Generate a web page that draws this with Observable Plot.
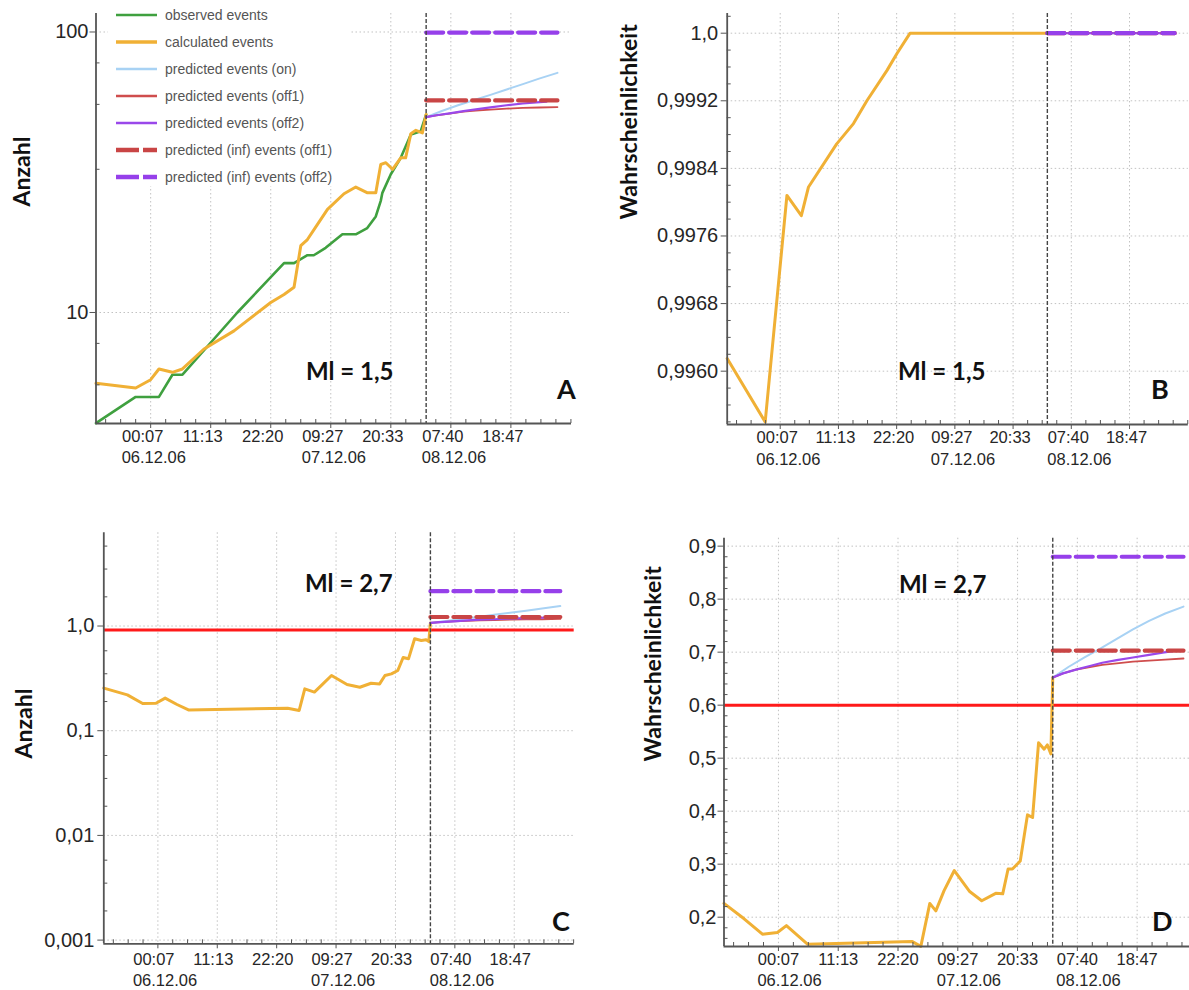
<!DOCTYPE html>
<html lang="de">
<head>
<meta charset="utf-8">
<title>Events Ml 1,5 / 2,7</title>
<script src="https://cdn.jsdelivr.net/npm/d3@7"></script>
<script src="https://cdn.jsdelivr.net/npm/@observablehq/plot@0.6"></script>
<style>
  html, body { margin: 0; padding: 0; background: #fff; overflow: hidden; }
  #wrap { position: relative; width: 1189px; height: 990px; overflow: hidden; background: #fff; }
  .panel { position: absolute; }
  #legend { position: absolute; left: 108px; top: 0; width: 242px; height: 186px; background: #fff;
            font-family: 'Liberation Sans', Arial, sans-serif; font-size: 14px; color: #555; }
  #legend .row { position: absolute; left: 0; height: 26px; display: flex; align-items: center; white-space: nowrap; }
  #legend .row svg { margin-left: 8px; margin-right: 8px; }
</style>
</head>
<body>
<div id="wrap"></div>
<script>
// ------------------------------------------------------------------
// DATA  (x = hours since 06.12.06 00:00)
// ------------------------------------------------------------------
const H0 = -10, H1 = 78;
const nowHour = 51.1;

const majorTickHours = [0.117, 11.228, 22.339, 33.450, 44.561, 55.672, 66.783];
const timeLabels = ["00:07", "11:13", "22:20", "09:27", "20:33", "07:40", "18:47"];
const dateLabels = ["06.12.06", "", "", "07.12.06", "", "08.12.06", ""];

const legendNames = [
  "observed events", "calculated events", "predicted events (on)", "predicted events (off1)",
  "predicted events (off2)", "predicted (inf) events (off1)", "predicted (inf) events (off2)"
];
const legendKeys = ["obs", "calc", "on", "off1", "off2", "inf1", "inf2"];

// prediction time steps
const predOnHours   = [51.1, 54, 57, 60, 63, 66, 69, 72, 75.4];
const predOff1Hours = [51.1, 53, 55.4, 58, 60.3, 63, 66, 69, 72, 75.4];
const predOff2Hours = [51.1, 53, 55.4, 58, 60.3, 63, 66, 69, 71.5, 73.4];
const predInfHours  = [51.1, 75.4];

// ---- Panel A (Anzahl, Ml = 1,5) ----
const yTicksA = [10, 100];
const yLabelsA = ["10", "100"];
const yMinorA = [5.52, 7.76, 32.4, 55.2, 77.6];
const obsHoursA = [-10, -2.66, 1.65, 4.14, 6.0, 16.17, 24.8, 26.65, 29.13, 30.3, 32.5, 35.6, 38.08, 40.2, 41.78, 42.7, 43.0, 44.56, 46.4, 48.27, 50.1, 51.1];
const obsA      = [4.03, 5.0, 5.0, 6.0, 6.0, 10.0, 15.0, 15.0, 16.0, 16.0, 17.0, 19.0, 19.0, 20.0, 22.0, 25.0, 26.7, 31.1, 35.6, 43.1, 44.3, 50.8];
const calcHoursA = [-10, -2.66, 0.117, 1.65, 4.14, 6.0, 9.99, 15.54, 22.34, 24.8, 26.65, 27.9, 29.13, 30.99, 32.84, 35.9, 38.08, 40.25, 41.78, 42.7, 43.64, 44.88, 46.4, 47.3, 48.27, 49.2, 50.4, 51.1];
const calcA      = [5.59, 5.38, 5.76, 6.29, 6.12, 6.29, 7.41, 8.6, 10.85, 11.6, 12.3, 17.3, 18.2, 20.6, 23.3, 26.5, 28.0, 26.7, 26.7, 33.7, 34.2, 32.4, 35.6, 35.6, 43.4, 44.6, 43.7, 50.8];
const predOnA   = [49.7, 52.3, 54.8, 57.2, 59.7, 62.4, 65.2, 68.2, 71.5];
const predOff1A = [49.7, 50.4, 51.2, 52.0, 52.5, 52.9, 53.3, 53.6, 53.8, 54.0];
const predOff2A = [49.7, 50.5, 51.3, 52.2, 53.0, 53.9, 54.8, 55.6, 56.1, 56.5];
const infOff1A = [57.0, 57.0];
const infOff2A = [99.5, 99.5];

// ---- Panel B (Wahrscheinlichkeit, Ml = 1,5) ----
const yTicksB = [0.996, 0.9968, 0.9976, 0.9984, 0.9992, 1.0];
const yLabelsB = ["0,9960", "0,9968", "0,9976", "0,9984", "0,9992", "1,0"];
const yMinorB = [0.9954, 0.9956, 0.9958, 0.9962, 0.9964, 0.9966, 0.9970, 0.9972, 0.9974, 0.9978, 0.9980, 0.9982, 0.9986, 0.9988, 0.9990, 0.9994, 0.9996, 0.9998, 1.0002];
const calcHoursB = [-10, -2.75, 1.4, 4.15, 5.52, 10.9, 14.1, 16.66, 20.5, 22.4, 24.9, 51.1];
const calcB      = [0.99615, 0.99540, 0.99808, 0.99784, 0.99818, 0.99869, 0.99893, 0.99920, 0.99956, 0.99976, 1.0, 1.0];
const predOnB   = [1.0, 1.0, 1.0, 1.0, 1.0, 1.0, 1.0, 1.0, 1.0];
const predOff1B = [1.0, 1.0, 1.0, 1.0, 1.0, 1.0, 1.0, 1.0, 1.0, 1.0];
const predOff2B = [1.0, 1.0, 1.0, 1.0, 1.0, 1.0, 1.0, 1.0, 1.0, 1.0];
const infOff1B = [1.0, 1.0];
const infOff2B = [1.0, 1.0];

// ---- Panel C (Anzahl, Ml = 2,7) ----
const yTicksC = [0.001, 0.01, 0.1, 1.0];
const yLabelsC = ["0,001", "0,01", "0,1", "1,0"];
const yMinorC = [0.0019, 0.0035, 0.0058, 0.019, 0.035, 0.058, 0.19, 0.35, 0.58, 1.9, 3.5, 5.8];
const calcHoursC = [-10, -5.59, -2.73, -0.24, 1.48, 3.69, 5.84, 24.4, 26.55, 27.6, 29.4, 30.85, 32.6, 35.5, 37.9, 40.0, 41.6, 42.6, 43.8, 45.0, 46.0, 47.0, 48.15, 49.4, 50.3, 50.8, 51.1];
const calcC      = [0.255, 0.220, 0.182, 0.183, 0.205, 0.178, 0.158, 0.164, 0.156, 0.251, 0.234, 0.276, 0.337, 0.276, 0.260, 0.284, 0.280, 0.337, 0.349, 0.376, 0.500, 0.486, 0.755, 0.727, 0.738, 0.71, 1.07];
const predOnC   = [1.07, 1.12, 1.17, 1.22, 1.28, 1.34, 1.40, 1.47, 1.55];
const predOff1C = [1.07, 1.09, 1.11, 1.12, 1.13, 1.14, 1.15, 1.155, 1.16, 1.17];
const predOff2C = [1.07, 1.09, 1.11, 1.13, 1.15, 1.16, 1.18, 1.19, 1.20, 1.21];
const infOff1C = [1.22, 1.22];
const infOff2C = [2.15, 2.15];
const thresholdC = 0.916;

// ---- Panel D (Wahrscheinlichkeit, Ml = 2,7) ----
const yTicksD = [0.2, 0.3, 0.4, 0.5, 0.6, 0.7, 0.8, 0.9];
const yLabelsD = ["0,2", "0,3", "0,4", "0,5", "0,6", "0,7", "0,8", "0,9"];
const yMinorD = [0.16, 0.18, 0.22, 0.24, 0.26, 0.28, 0.32, 0.34, 0.36, 0.38, 0.42, 0.44, 0.46, 0.48, 0.52, 0.54, 0.56, 0.58, 0.62, 0.64, 0.66, 0.68, 0.72, 0.74, 0.76, 0.78, 0.82, 0.84, 0.86, 0.88];
const calcHoursD = [-10, -6.26, -2.86, -0.07, 1.6, 5.51, 25.0, 26.58, 28.25, 29.37, 30.9, 32.8, 35.6, 37.9, 40.5, 41.8, 42.8, 43.6, 45.06, 46.4, 47.35, 48.46, 49.5, 50.1, 50.75, 51.1];
const calcD      = [0.226, 0.197, 0.168, 0.171, 0.184, 0.149, 0.154, 0.145, 0.226, 0.212, 0.250, 0.288, 0.249, 0.231, 0.245, 0.244, 0.291, 0.291, 0.306, 0.393, 0.388, 0.529, 0.517, 0.525, 0.508, 0.652];
const predOnD   = [0.652, 0.672, 0.690, 0.707, 0.725, 0.743, 0.759, 0.773, 0.786];
const predOff1D = [0.652, 0.660, 0.667, 0.672, 0.676, 0.679, 0.682, 0.684, 0.686, 0.688];
const predOff2D = [0.652, 0.660, 0.667, 0.674, 0.680, 0.685, 0.690, 0.695, 0.699, 0.702];
const infOff1D = [0.703, 0.703];
const infOff2D = [0.880, 0.880];
const thresholdD = 0.6;

const titles = ["Anzahl", "Wahrscheinlichkeit", "Anzahl", "Wahrscheinlichkeit"];
const magnitudes = ["Ml = 1,5", "Ml = 1,5", "Ml = 2,7", "Ml = 2,7"];
const letters = ["A", "B", "C", "D"];

// ------------------------------------------------------------------
// STYLE
// ------------------------------------------------------------------
const FONT = "'Liberation Sans', Arial, sans-serif";
const BOLD = "Lato, 'Open Sans', sans-serif";
const styles = {
  obs:  {stroke: "#3fa03f", strokeWidth: 2.6},
  calc: {stroke: "#f0b035", strokeWidth: 3},
  on:   {stroke: "#a8d2f4", strokeWidth: 2},
  off1: {stroke: "#cf4d4d", strokeWidth: 1.8},
  off2: {stroke: "#9a48ea", strokeWidth: 2.2},
  inf1: {stroke: "#c94545", strokeWidth: 4.2, strokeDasharray: "17,6"},
  inf2: {stroke: "#9640ea", strokeWidth: 4.2, strokeDasharray: "17,6"},
  thr:  {stroke: "#ff1a1a", strokeWidth: 3}
};
const gridStyle = {stroke: "#c2c2c2", strokeOpacity: 1, strokeWidth: 1, strokeDasharray: "1.5,2.5"};
const axisColor = "#555";
const labelColor = "#262626";

const tickStep = (majorTickHours[1] - majorTickHours[0]) / 4;
const minorTickHours = [];
for (let t = majorTickHours[0] - 3 * tickStep; t <= H1; t += tickStep) {
  if (t >= H0 && !majorTickHours.some(m => Math.abs(m - t) < 0.01)) minorTickHours.push(t);
}

const series = (hs, vs) => hs.map((h, i) => ({h, v: vs[i]}));

function panel(p) {
  const fw = p.R - p.L, fh = p.B - p.T;
  const xTickData = majorTickHours.map((h, i) => ({h, t: timeLabels[i], d: dateLabels[i]}));
  const marks = [
    Plot.gridX(majorTickHours, gridStyle),
    Plot.gridY(p.yTicks, gridStyle)
  ];
  if (p.thr != null) marks.push(Plot.ruleY([p.thr], styles.thr));
  if (p.obs) marks.push(Plot.line(series(p.obsH, p.obs), {x: "h", y: "v", ...styles.obs}));
  marks.push(Plot.line(series(p.calcH, p.calc), {x: "h", y: "v", ...styles.calc}));
  marks.push(Plot.line(series(predOnHours, p.on), {x: "h", y: "v", ...styles.on}));
  marks.push(Plot.line(series(predOff1Hours, p.off1), {x: "h", y: "v", ...styles.off1}));
  marks.push(Plot.line(series(predOff2Hours, p.off2), {x: "h", y: "v", ...styles.off2}));
  marks.push(Plot.line(series(predInfHours, p.inf1), {x: "h", y: "v", ...styles.inf1}));
  marks.push(Plot.line(series(predInfHours, p.inf2), {x: "h", y: "v", ...styles.inf2}));
  marks.push(Plot.ruleX([nowHour], {stroke: "#444", strokeWidth: 1.4, strokeDasharray: "4,2"}));
  // axis lines
  marks.push(Plot.ruleX([H0], {stroke: axisColor, strokeWidth: 1.8}));
  marks.push(Plot.ruleY([p.yDomain[0]], {stroke: axisColor, strokeWidth: 1.8}));
  // ticks
  marks.push(Plot.axisX(majorTickHours, {tickSize: 5, tickFormat: () => "", stroke: axisColor, label: null}));
  marks.push(Plot.tickX(minorTickHours, {x: d => d, stroke: axisColor, insetTop: fh - 4}));
  marks.push(Plot.axisY(p.yTicks, {
    tickSize: 6, tickPadding: p.yPad, fontSize: 20, fill: labelColor, stroke: axisColor, label: null,
    tickFormat: d => p.yLabels[p.yTicks.indexOf(d)]
  }));
  marks.push(Plot.tickY(p.yMinor.filter(v => v >= p.yDomain[0] && v <= p.yDomain[1]), {y: d => d, stroke: axisColor, insetRight: fw - 4}));
  // x labels
  marks.push(Plot.text(xTickData, {x: "h", text: "t", frameAnchor: "bottom", dy: p.timeDy, dx: p.xdx, fontSize: 16.5, fill: labelColor, lineAnchor: "middle"}));
  marks.push(Plot.text(xTickData.filter(d => d.d), {x: "h", text: "d", frameAnchor: "bottom", textAnchor: "start", dy: p.dateDy, dx: p.xdx - 21, fontSize: 16.5, fill: labelColor, lineAnchor: "middle"}));
  // axis title
  marks.push(Plot.text([p.title], {text: d => d, frameAnchor: "left", rotate: -90, dx: p.titleX - p.L, dy: p.titleY - (p.T + p.B) / 2,
    fontSize: 23, fontWeight: "bold", fontFamily: BOLD, fill: "#111", lineAnchor: "middle"}));
  // annotations
  marks.push(Plot.text([p.mag], {text: d => d, frameAnchor: "top-left", dx: p.magX - p.L, dy: p.magY - p.T,
    fontSize: 24, fontWeight: "bold", fontFamily: BOLD, fill: "#111", lineAnchor: "middle"}));
  marks.push(Plot.text([p.letter], {text: d => d, frameAnchor: "top-left", dx: p.letX - p.L, dy: p.letY - p.T,
    fontSize: 27, fontWeight: "bold", fontFamily: BOLD, fill: "#111", lineAnchor: "middle"}));

  const svg = Plot.plot({
    width: p.w, height: p.h,
    marginLeft: p.L - p.left, marginRight: p.left + p.w - p.R,
    marginTop: p.T - p.top, marginBottom: p.top + p.h - p.B,
    x: {domain: [H0, H1], label: null},
    y: {type: p.yType, domain: p.yDomain, label: null},
    style: {fontFamily: FONT, background: "transparent", overflow: "visible"},
    marks
  });
  svg.classList.add("panel");
  svg.style.left = p.left + "px";
  svg.style.top = p.top + "px";
  return svg;
}

const wrap = document.getElementById("wrap");

wrap.appendChild(panel({
  left: 0, top: 0, w: 600, h: 475, L: 95.5, R: 571, T: 13, B: 423,
  yType: "log", yDomain: [4.02, 116.4], yTicks: yTicksA, yLabels: yLabelsA, yMinor: yMinorA, yPad: 1.5,
  obsH: obsHoursA, obs: obsA, calcH: calcHoursA, calc: calcA,
  on: predOnA, off1: predOff1A, off2: predOff2A, inf1: infOff1A, inf2: infOff2A,
  xdx: -8, timeDy: 13, dateDy: 34,
  title: titles[0], titleX: 22, titleY: 206,
  mag: magnitudes[0], magX: 305.5, magY: 372.3, letter: letters[0], letX: 556.5, letY: 389.7
}));

wrap.appendChild(panel({
  left: 600, top: 0, w: 589, h: 475, L: 726.7, R: 1187.8, T: 13, B: 424,
  yType: "linear", yDomain: [0.995369, 1.000233], yTicks: yTicksB, yLabels: yLabelsB, yMinor: yMinorB, yPad: 3,
  calcH: calcHoursB, calc: calcB,
  on: predOnB, off1: predOff1B, off2: predOff2B, inf1: infOff1B, inf2: infOff2B,
  xdx: -3, timeDy: 13.5, dateDy: 35,
  title: titles[1], titleX: 629.5, titleY: 219,
  mag: magnitudes[1], magX: 897.5, magY: 372.3, letter: letters[1], letX: 1150.5, letY: 389.7
}));

wrap.appendChild(panel({
  left: 0, top: 475, w: 600, h: 515, L: 103.3, R: 573.7, T: 532.3, B: 943.3,
  yType: "log", yDomain: [0.000922, 7.77], yTicks: yTicksC, yLabels: yLabelsC, yMinor: yMinorC, yPad: 3.5,
  thr: thresholdC, calcH: calcHoursC, calc: calcC,
  on: predOnC, off1: predOff1C, off2: predOff2C, inf1: infOff1C, inf2: infOff2C,
  xdx: -4, timeDy: 15.7, dateDy: 36.7,
  title: titles[2], titleX: 24, titleY: 758,
  mag: magnitudes[2], magX: 304.6, magY: 584.3, letter: letters[2], letX: 551.5, letY: 921.7
}));

wrap.appendChild(panel({
  left: 600, top: 475, w: 610, h: 515, L: 723.5, R: 1197, T: 537.7, B: 946,
  yType: "linear", yDomain: [0.1447, 0.915], yTicks: yTicksD, yLabels: yLabelsD, yMinor: yMinorD, yPad: 1.5,
  thr: thresholdD, calcH: calcHoursD, calc: calcD,
  on: predOnD, off1: predOff1D, off2: predOff2D, inf1: infOff1D, inf2: infOff2D,
  xdx: 0, timeDy: 13, dateDy: 34,
  title: titles[3], titleX: 653.5, titleY: 761,
  mag: magnitudes[3], magX: 898.5, magY: 585, letter: letters[3], letX: 1151.5, letY: 921.7
}));

// ---- legend (overlaid in panel A) ----
const legend = document.createElement("div");
legend.id = "legend";
legendNames.forEach((name, i) => {
  const st = styles[legendKeys[i]];
  const row = document.createElement("div");
  row.className = "row";
  row.style.top = (2 + i * 27) + "px";
  const ns = "http://www.w3.org/2000/svg";
  const sw = document.createElementNS(ns, "svg");
  sw.setAttribute("width", 41); sw.setAttribute("height", 10);
  const ln = document.createElementNS(ns, "line");
  ln.setAttribute("x1", 0); ln.setAttribute("x2", 41); ln.setAttribute("y1", 5); ln.setAttribute("y2", 5);
  ln.setAttribute("stroke", st.stroke);
  ln.setAttribute("stroke-width", st.strokeDasharray ? 4.3 : (legendKeys[i] === "calc" ? 3.3 : 2.5));
  if (st.strokeDasharray) ln.setAttribute("stroke-dasharray", "23,4");
  sw.appendChild(ln);
  const tx = document.createElement("span");
  tx.textContent = name;
  row.appendChild(sw); row.appendChild(tx);
  legend.appendChild(row);
});
wrap.appendChild(legend);
</script>
</body>
</html>
